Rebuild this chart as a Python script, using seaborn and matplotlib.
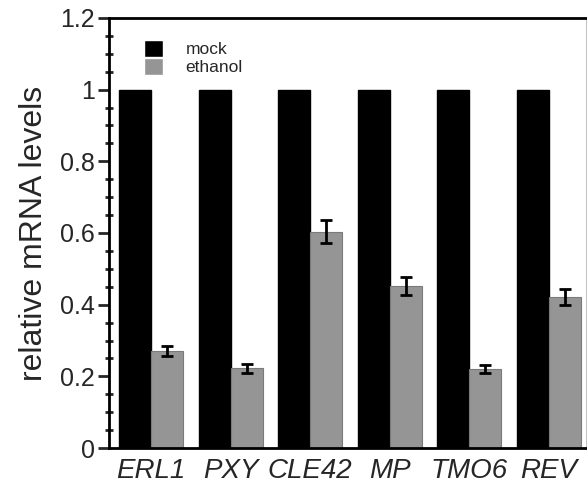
import matplotlib

matplotlib.use("Agg")

import matplotlib.pyplot as plt
import pandas as pd
import seaborn as sns
from matplotlib.ticker import MultipleLocator

sns.set_theme(style="ticks")
plt.rcParams["font.family"] = ["Liberation Sans", "DejaVu Sans"]

genes = ["ERL1", "PXY", "CLE42", "MP", "TMO6", "REV"]
mock = [1.0, 1.0, 1.0, 1.0, 1.0, 1.0]
ethanol = [0.272, 0.222, 0.604, 0.452, 0.220, 0.421]
ethanol_err = [0.014, 0.012, 0.031, 0.024, 0.012, 0.023]

df = pd.DataFrame({
    "gene": genes * 2,
    "level": mock + ethanol,
    "treatment": ["mock"] * len(genes) + ["ethanol"] * len(genes),
})

fig = plt.figure(figsize=(5.87, 4.84), dpi=100)
ax = fig.add_axes([109 / 587, 1 - 448 / 484, 478 / 587, 430 / 484])

sns.barplot(
    data=df, x="gene", y="level", hue="treatment",
    palette={"mock": "black", "ethanol": "#959595"},
    errorbar=None, width=0.8, ax=ax, saturation=1,
)
for bar in ax.containers[1]:
    bar.set_edgecolor("#7a7a7a")
    bar.set_linewidth(0.8)
for bar in ax.containers[0]:
    bar.set_edgecolor("black")

# error bars on ethanol bars
xs = [b.get_x() + b.get_width() / 2 for b in ax.containers[1]]
ax.errorbar(xs, ethanol, yerr=ethanol_err, fmt="none", ecolor="black",
            elinewidth=2, capsize=4, capthick=2)

ax.set_ylim(0, 1.2)
ax.set_xlim(-0.53, 5.48)
ax.yaxis.set_major_locator(MultipleLocator(0.2))
ax.yaxis.set_minor_locator(MultipleLocator(0.05))
ax.set_yticks([0, 0.2, 0.4, 0.6, 0.8, 1.0, 1.2], ["0", "0.2", "0.4", "0.6", "0.8", "1", "1.2"])
ax.tick_params(axis="y", which="major", direction="out", length=8, width=2, labelsize=18, pad=2)
ax.tick_params(axis="y", which="minor", direction="inout", length=6, width=2)
ax.tick_params(axis="x", length=0, labelsize=20, pad=7)
for lbl in ax.get_xticklabels():
    lbl.set_style("italic")

ax.set_xlabel("")
ax.set_ylabel("relative mRNA levels", fontsize=23, labelpad=8)

for side in ["left", "bottom", "top", "right"]:
    ax.spines[side].set_linewidth(2)
    ax.spines[side].set_color("black")
ax.spines["right"].set_color("#bbbbbb")

handles, labels = ax.get_legend_handles_labels()
ax.legend(handles, labels, loc="upper left", bbox_to_anchor=(0.04, 0.985),
          frameon=False, fontsize=12.5, handlelength=1.1, handleheight=1.1,
          handletextpad=1.3, labelspacing=0.05)

fig.savefig("out.png", dpi=100)
